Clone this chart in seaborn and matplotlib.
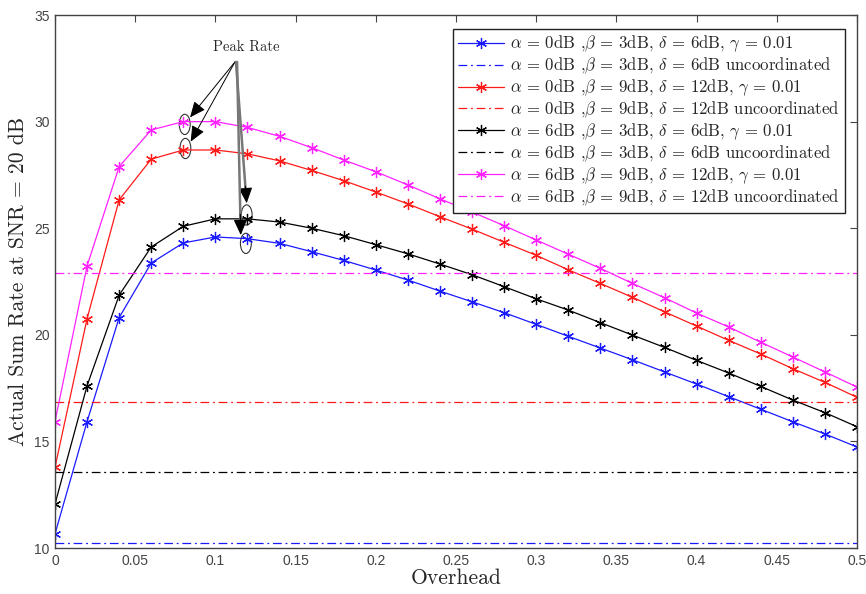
import numpy as np
import pandas as pd
import matplotlib
matplotlib.use("Agg")
import matplotlib.pyplot as plt
from matplotlib.patches import Ellipse
from matplotlib.lines import Line2D
import seaborn as sns

# Overhead values (x axis)
overhead = [0.00, 0.02, 0.04, 0.06, 0.08, 0.10, 0.12, 0.14, 0.16, 0.18, 0.20, 0.22, 0.24,
            0.26, 0.28, 0.30, 0.32, 0.34, 0.36, 0.38, 0.40, 0.42, 0.44, 0.46, 0.48, 0.50]

# Coordinated sum rates, gamma = 0.01
rate_a0_b3_d6 = [10.66, 15.93, 20.81, 23.37, 24.31, 24.59, 24.51, 24.29, 23.90, 23.49, 23.04,
                 22.57, 22.05, 21.55, 21.04, 20.49, 19.93, 19.38, 18.83, 18.26, 17.69, 17.10,
                 16.51, 15.92, 15.35, 14.74]
rate_a0_b9_d12 = [13.78, 20.76, 26.33, 28.24, 28.67, 28.67, 28.49, 28.16, 27.71, 27.23, 26.70,
                  26.14, 25.54, 24.96, 24.34, 23.73, 23.05, 22.41, 21.76, 21.08, 20.41, 19.74,
                  19.10, 18.41, 17.77, 17.07]
rate_a6_b3_d6 = [12.06, 17.61, 21.86, 24.12, 25.09, 25.44, 25.44, 25.29, 25.00, 24.65, 24.23,
                 23.80, 23.32, 22.82, 22.26, 21.69, 21.16, 20.57, 19.99, 19.41, 18.80, 18.21,
                 17.58, 16.94, 16.35, 15.69]
rate_a6_b9_d12 = [15.93, 23.23, 27.89, 29.61, 30.00, 30.00, 29.73, 29.31, 28.78, 28.20, 27.65,
                  27.03, 26.38, 25.76, 25.12, 24.45, 23.78, 23.12, 22.41, 21.74, 21.02, 20.37,
                  19.65, 18.96, 18.26, 17.55]

# Uncoordinated reference rates (constant over overhead)
uncoord_a0_b3_d6 = 10.22
uncoord_a0_b9_d12 = 16.87
uncoord_a6_b3_d6 = 13.56
uncoord_a6_b9_d12 = 22.92

labels = [
    r"$\alpha$ = 0dB ,$\beta$ = 3dB, $\delta$ = 6dB, $\gamma$ = 0.01",
    r"$\alpha$ = 0dB ,$\beta$ = 3dB, $\delta$ = 6dB uncoordinated",
    r"$\alpha$ = 0dB ,$\beta$ = 9dB, $\delta$ = 12dB, $\gamma$ = 0.01",
    r"$\alpha$ = 0dB ,$\beta$ = 9dB, $\delta$ = 12dB uncoordinated",
    r"$\alpha$ = 6dB ,$\beta$ = 3dB, $\delta$ = 6dB, $\gamma$ = 0.01",
    r"$\alpha$ = 6dB ,$\beta$ = 3dB, $\delta$ = 6dB uncoordinated",
    r"$\alpha$ = 6dB ,$\beta$ = 9dB, $\delta$ = 12dB, $\gamma$ = 0.01",
    r"$\alpha$ = 6dB ,$\beta$ = 9dB, $\delta$ = 12dB uncoordinated",
]

xtick_vals = [0, 0.05, 0.1, 0.15, 0.2, 0.25, 0.3, 0.35, 0.4, 0.45, 0.5]
xtick_labels = ["0", "0.05", "0.1", "0.15", "0.2", "0.25", "0.3", "0.35", "0.4", "0.45", "0.5"]
ytick_vals = [10, 15, 20, 25, 30, 35]
ytick_labels = ["10", "15", "20", "25", "30", "35"]

sns.set_theme(style="white")
plt.rcParams.update({
    "mathtext.fontset": "cm",
    "axes.edgecolor": "#444444",
    "axes.linewidth": 1.0,
    "xtick.direction": "in",
    "ytick.direction": "in",
    "xtick.top": True,
    "ytick.right": True,
    "xtick.major.size": 5,
    "ytick.major.size": 5,
    "xtick.color": "#444444",
    "ytick.color": "#444444",
})

fig = plt.figure(figsize=(8.66, 5.94), dpi=100)
ax = fig.add_axes([0.0635, 0.0774, 0.9261, 0.8973])

colors = ["#1a1aff", "#ff1a1a", "#000000", "#ff22ff"]
coord = [rate_a0_b3_d6, rate_a0_b9_d12, rate_a6_b3_d6, rate_a6_b9_d12]
uncoord = [uncoord_a0_b3_d6, uncoord_a0_b9_d12, uncoord_a6_b3_d6, uncoord_a6_b9_d12]
asterisk = (6, 2, 0)
dashdot = (0, (7, 3, 1.5, 3))

x_span = [overhead[0], overhead[-1]]
handles = []
for c, ys, u in zip(colors, coord, uncoord):
    sns.lineplot(x=overhead, y=ys, ax=ax, color=c, lw=0.9, marker=asterisk,
                 markersize=8, markeredgewidth=0.9, markeredgecolor=c, sort=False)
    sns.lineplot(x=x_span, y=[u, u], ax=ax, color=c, lw=0.9, sort=False)
    ax.lines[-1].set_linestyle(dashdot)
    handles.append(Line2D([], [], color=c, lw=0.9, marker=asterisk, markersize=8,
                          markeredgewidth=0.9, markeredgecolor=c))
    handles.append(Line2D([], [], color=c, lw=0.9, linestyle=dashdot))

ax.set_xlim(0, 0.5)
ax.set_ylim(10, 35)
ax.set_xticks(xtick_vals)
ax.set_xticklabels(xtick_labels, fontsize=10, family="Liberation Sans")
ax.set_yticks(ytick_vals)
ax.set_yticklabels(ytick_labels, fontsize=10, family="Liberation Sans")
ax.tick_params(axis="both", pad=4, width=0.8)

ax.set_xlabel("Overhead", fontsize=15.5, family="cmr10", labelpad=1)
ax.set_ylabel("Actual Sum Rate at SNR = 20 dB", fontsize=15.5, family="cmr10", labelpad=4)

leg = ax.legend(handles, labels, loc="upper right", bbox_to_anchor=(0.985, 0.974),
                borderaxespad=0, frameon=True, fancybox=False, handlelength=2.75,
                handletextpad=0.35, labelspacing=0.08, borderpad=0.3,
                prop={"family": "cmr10", "size": 12.1})
leg.get_frame().set_edgecolor("#222222")
leg.get_frame().set_linewidth(1.0)
leg.get_frame().set_alpha(1)

# Peak-rate annotation
ax.text(0.1195, 33.48, "Peak Rate", ha="center", va="center", fontsize=10.5, family="cmr10")
start = (0.1122, 32.8)
for end in [(0.0842, 30.2), (0.0846, 29.06)]:
    ax.annotate("", xy=end, xytext=start,
                arrowprops=dict(arrowstyle="-|>,head_length=0.8,head_width=0.35",
                                color="black", lw=0.7, shrinkA=0, shrinkB=0))
for sx, end in [(0.1128, (0.1195, 26.17)), (0.1135, (0.1158, 24.68))]:
    # grey shaft with a black head
    ax.annotate("", xy=end, xytext=(sx, 32.8),
                arrowprops=dict(arrowstyle="-", color="#777777", lw=1.8,
                                shrinkA=0, shrinkB=4))
    hx = sx + (end[0] - sx) * 0.88
    hy = 32.8 + (end[1] - 32.8) * 0.88
    ax.annotate("", xy=end, xytext=(hx, hy),
                arrowprops=dict(arrowstyle="-|>,head_length=0.8,head_width=0.35",
                                color="black", lw=0.8, shrinkA=0, shrinkB=0))
for cx, cy in [(0.0809, 29.87), (0.0813, 28.74), (0.1195, 25.62), (0.119, 24.29)]:
    ax.add_patch(Ellipse((cx, cy), width=0.0068, height=0.95, fill=False,
                         edgecolor="#333333", lw=0.8))

fig.savefig("out.png", dpi=100)
